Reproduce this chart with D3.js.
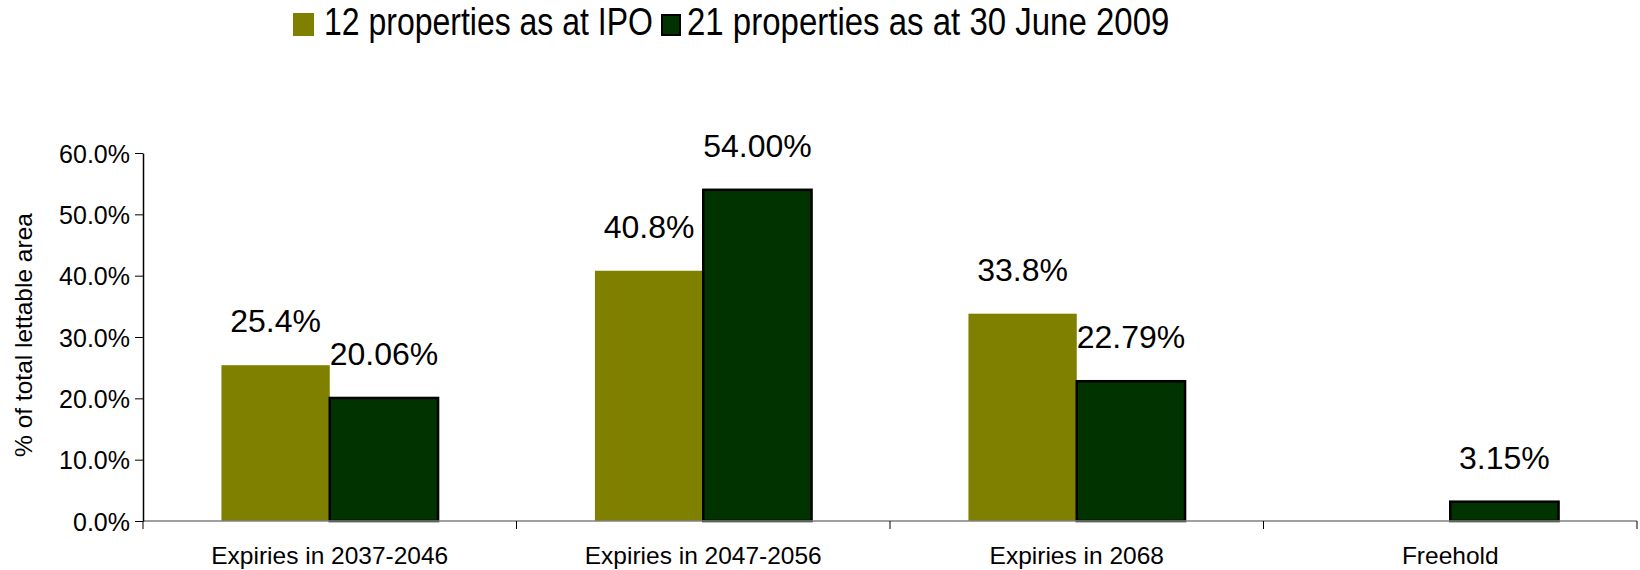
<!DOCTYPE html>
<html>
<head>
<meta charset="utf-8">
<script src="https://cdn.jsdelivr.net/npm/d3@7/dist/d3.min.js"></script>
<style>
    body { margin: 0; background: #fff; }
    text { font-family: "Liberation Sans", Arial, sans-serif; fill: #000; }
</style>
</head>
<body>
<script>
let categories = ["Expiries in 2037-2046", "Expiries in 2047-2056", "Expiries in 2068", "Freehold"];
let series_names = ["12 properties as at IPO", "21 properties as at 30 June 2009"];
let ipo_values = [25.4, 40.8, 33.8, null];
let june_values = [20.06, 54.00, 22.79, 3.15];
let y_ticks = [0, 10, 20, 30, 40, 50, 60];
let colors = ["#808000", "#003300"];

let chart_w = 1640, chart_h = 570;
let plot_l = 143, plot_r = 1637, plot_t = 153, plot_b = 521;

let svg = d3.select("body").append("svg")
    .attr("width", chart_w)
    .attr("height", chart_h);

let x = d3.scaleBand()
    .domain(categories)
    .range([plot_l, plot_r])
    .paddingInner(0.42)
    .paddingOuter(0.21);
let bar_w = x.bandwidth() / 2;

let y = d3.scaleLinear()
    .domain([0, 60])
    .range([plot_b, plot_t]);

// bars, series 1 then series 2
let bars = [];
categories.forEach(function (c, i) {
    bars.push({cat: c, s: 0, v: ipo_values[i], label: ipo_values[i] == null ? "" : ipo_values[i].toFixed(1) + "%"});
    bars.push({cat: c, s: 1, v: june_values[i], label: june_values[i].toFixed(2) + "%"});
});
bars = bars.filter(function (d) { return d.v != null; });

svg.selectAll(".bar")
    .data(bars)
    .enter()
    .append("rect")
    .attr("class", "bar")
    .attr("x", function (d) { return x(d.cat) + d.s * bar_w; })
    .attr("y", function (d) { return y(d.v); })
    .attr("width", bar_w)
    .attr("height", function (d) { return y(0) - y(d.v); })
    .attr("fill", function (d) { return colors[d.s]; })
    .attr("stroke", function (d) { return d.s === 1 ? "#000" : "none"; })
    .attr("stroke-width", 2.5);

svg.selectAll(".bar_label")
    .data(bars)
    .enter()
    .append("text")
    .attr("class", "bar_label")
    .attr("x", function (d) { return x(d.cat) + d.s * bar_w + bar_w / 2; })
    .attr("y", function (d) { return y(d.v) - 33; })
    .attr("text-anchor", "middle")
    .style("font-size", "32px")
    .text(function (d) { return d.label; });

// x axis: grey base line, black boundary ticks, labels
svg.append("line")
    .attr("x1", plot_l).attr("x2", plot_r)
    .attr("y1", y(0)).attr("y2", y(0))
    .attr("stroke", "#808080")
    .attr("stroke-width", 1.5);

let bounds = d3.range(categories.length + 1).map(function (i) { return plot_l + i * x.step(); });
svg.selectAll(".xtick")
    .data(bounds)
    .enter()
    .append("line")
    .attr("class", "xtick")
    .attr("x1", function (d) { return d; }).attr("x2", function (d) { return d; })
    .attr("y1", y(0)).attr("y2", y(0) + 8)
    .attr("stroke", "#000");

svg.selectAll(".cat_label")
    .data(categories)
    .enter()
    .append("text")
    .attr("class", "cat_label")
    .attr("x", function (d) { return x(d) + x.bandwidth() / 2; })
    .attr("y", 564)
    .attr("text-anchor", "middle")
    .style("font-size", "24.5px")
    .text(function (d) { return d; });

// y axis
let y_axis = svg.append("g")
    .attr("transform", "translate(" + plot_l + ",0)")
    .call(d3.axisLeft(y)
        .tickValues(y_ticks)
        .tickFormat(function (d) { return d.toFixed(1) + "%"; })
        .tickSize(8)
        .tickSizeOuter(0)
        .tickPadding(5));
y_axis.select(".domain").attr("stroke", "#000").attr("stroke-width", 1.5);
y_axis.selectAll(".tick line").attr("stroke", "#000");
y_axis.selectAll(".tick text")
    .attr("dy", "0.36em")
    .style("font-family", "'Liberation Sans', Arial, sans-serif")
    .style("font-size", "25px")
    .attr("fill", "#000");

svg.append("text")
    .attr("transform", "translate(32," + ((plot_t + plot_b) / 2 - 2) + ") rotate(-90)")
    .attr("text-anchor", "middle")
    .style("font-size", "24.5px")
    .text("% of total lettable area");

// legend
let legend_x = [293, 662];
let legend = svg.selectAll(".legend")
    .data(series_names)
    .enter()
    .append("g")
    .attr("class", "legend")
    .attr("transform", function (d, i) { return "translate(" + legend_x[i] + ",0)"; });
legend.append("rect")
    .attr("x", 0)
    .attr("y", function (d, i) { return i === 0 ? 13 : 15; })
    .attr("width", function (d, i) { return i === 0 ? 21 : 18; })
    .attr("height", function (d, i) { return i === 0 ? 23 : 20; })
    .attr("fill", function (d, i) { return colors[i]; })
    .attr("stroke", function (d, i) { return i === 1 ? "#000" : "none"; })
    .attr("stroke-width", 2);
legend.append("text")
    .attr("transform", function (d, i) { return "translate(" + (i === 0 ? 31 : 25) + ",35) scale(1,1.2)"; })
    .style("font-size", function (d, i) { return i === 0 ? "32px" : "33px"; })
    .text(function (d) { return d; });
</script>
</body>
</html>
